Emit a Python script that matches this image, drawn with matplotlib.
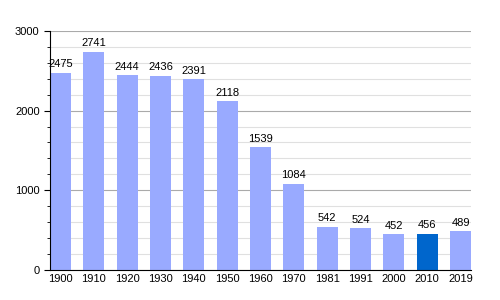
import matplotlib.pyplot as plt
from matplotlib.ticker import MultipleLocator

years = ["1900", "1910", "1920", "1930", "1940", "1950", "1960",
         "1970", "1981", "1991", "2000", "2010", "2019"]
population = [2475, 2741, 2444, 2436, 2391, 2118, 1539,
              1084, 542, 524, 452, 456, 489]
highlight = "2010"

plt.rcParams['font.family'] = ['Liberation Sans', 'DejaVu Sans']

fig = plt.figure(figsize=(5, 3), dpi=100)
ax = fig.add_axes([0.1, 0.1, 0.842, 0.797])

colors = ['#0066cc' if y == highlight else '#99aaff' for y in years]
x = range(len(years))
w = 0.63
bars = ax.bar(x, population, width=w, color=colors, zorder=2)

for b, v in zip(bars, population):
    ax.annotate(str(v), (b.get_x() + b.get_width() / 2, v),
                xytext=(0, 2.5), textcoords='offset points',
                ha='center', va='bottom', fontsize=8)

ax.set_xlim(-w / 2, len(years) - 1 + w / 2)
ax.set_ylim(0, 3000)
ax.set_xticks(list(x))
ax.set_xticklabels(years)
ax.yaxis.set_major_locator(MultipleLocator(1000))
ax.yaxis.set_minor_locator(MultipleLocator(200))
ax.grid(axis='y', which='minor', color='#e0e0e0', linewidth=0.8, zorder=0)
ax.grid(axis='y', which='major', color='#aaaaaa', linewidth=0.8, zorder=0)

ax.spines['top'].set_visible(False)
ax.spines['right'].set_visible(False)
ax.tick_params(axis='x', length=0, labelsize=8, pad=3)
ax.tick_params(axis='y', which='major', length=4, labelsize=8)
ax.tick_params(axis='y', which='minor', length=2.5)

fig.savefig("out.png", dpi=100)
